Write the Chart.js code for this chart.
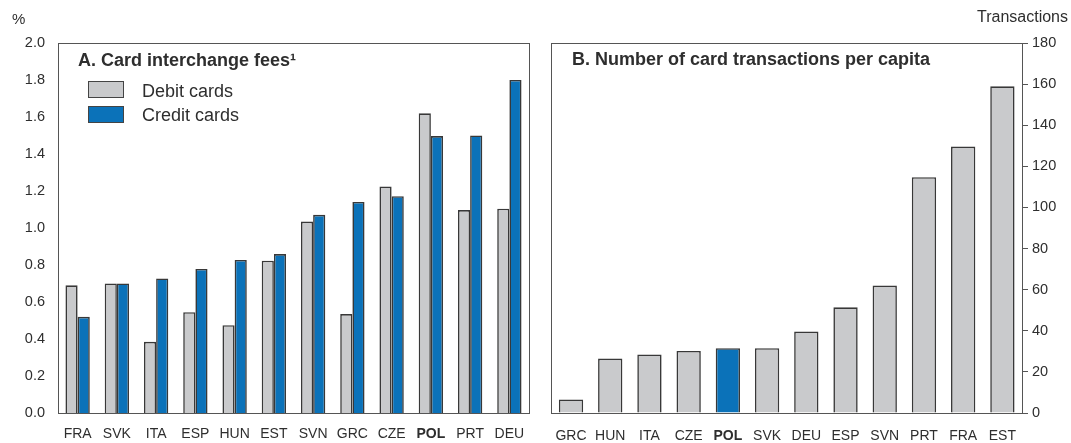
<!DOCTYPE html>
<html>
<head>
<meta charset="utf-8">
<script src="https://cdn.jsdelivr.net/npm/chart.js@4/dist/chart.umd.min.js"></script>
<style>
  html, body { margin:0; padding:0; background:#fff; }
  body { width:1071px; height:443px; position:relative; overflow:hidden; font-family:"Liberation Sans", Arial, sans-serif; color:#2e2e2e; }
  .abs { position:absolute; line-height:1; white-space:nowrap; }
  #cA { position:absolute; left:0; top:0; }
  #cB { position:absolute; left:540px; top:0; }
  .lbox { position:absolute; width:34px; height:15px; border:1.5px solid #444; }
</style>
</head>
<body>
<canvas id="cA" width="540" height="443"></canvas>
<canvas id="cB" width="531" height="443"></canvas>

<div class="abs" style="left:12px; top:11px; font-size:15px;">%</div>
<div class="abs" style="left:977px; top:9px; font-size:16px;">Transactions</div>
<div class="abs" style="left:78px; top:51px; font-size:18px; font-weight:bold;">A. Card interchange fees¹</div>
<div class="abs" style="left:572px; top:50px; font-size:18px; font-weight:bold;">B. Number of card transactions per capita</div>

<div class="lbox" style="left:88px; top:81px; background:#c9cacc;"></div>
<div class="abs" style="left:142px; top:82px; font-size:18px;">Debit cards</div>
<div class="lbox" style="left:88px; top:106px; background:#0b72b9;"></div>
<div class="abs" style="left:142px; top:106px; font-size:18px;">Credit cards</div>

<script>
// ---- Data ----
const feeCountries = ['FRA','SVK','ITA','ESP','HUN','EST','SVN','GRC','CZE','POL','PRT','DEU'];
const debitFees    = [0.69, 0.70, 0.385, 0.545, 0.475, 0.823, 1.035, 0.535, 1.225, 1.62, 1.097, 1.104];
const creditFees   = [0.52, 0.70, 0.727, 0.779, 0.827, 0.859, 1.071, 1.141, 1.172, 1.497, 1.50, 1.80];
const feeTicks     = [0, 0.2, 0.4, 0.6, 0.8, 1.0, 1.2, 1.4, 1.6, 1.8, 2.0];

const txCountries  = ['GRC','HUN','ITA','CZE','POL','SVK','DEU','ESP','SVN','PRT','FRA','EST'];
const txPerCapita  = [6.6, 26.5, 28.5, 30.2, 31.5, 31.5, 39.6, 51.4, 62.0, 114.7, 129.6, 158.9];
const txTicks      = [0, 20, 40, 60, 80, 100, 120, 140, 160, 180];

// ---- Styles ----
const GREY = '#c9cacc', BLUE = '#0b72b9', EDGE = '#383838', TXT = '#2e2e2e';
const FONT = '"Liberation Sans", Arial, sans-serif';
Chart.defaults.font.family = FONT;
Chart.defaults.color = TXT;

const frame = {
  id: 'frame',
  afterDraw(chart) {
    const a = chart.chartArea, c = chart.ctx;
    c.save();
    c.strokeStyle = '#555';
    c.lineWidth = 1;
    c.strokeRect(Math.round(a.left) + 0.5, Math.round(a.top) + 0.5,
                 Math.round(a.right - a.left), Math.round(a.bottom - a.top));
    c.restore();
  }
};

const tickFont = (ctx) => ({
  size: 14, family: FONT,
  weight: (ctx.tick && ctx.tick.label === 'POL') ? 'bold' : 'normal'
});

new Chart(document.getElementById('cA'), {
  type: 'bar',
  data: {
    labels: feeCountries,
    datasets: [
      { label: 'Debit cards', data: debitFees, backgroundColor: GREY, borderColor: EDGE, borderWidth: 1.6,
        categoryPercentage: 0.62, barPercentage: 1.0 },
      { label: 'Credit cards', data: creditFees, backgroundColor: BLUE, borderColor: EDGE, borderWidth: 1.6,
        categoryPercentage: 0.62, barPercentage: 1.0 }
    ]
  },
  options: {
    responsive: false, animation: false,
    layout: { padding: { top: 43, right: 11, left: 0, bottom: 0 } },
    plugins: { legend: { display: false }, tooltip: { enabled: false } },
    scales: {
      x: {
        grid: { display: false, drawTicks: false }, border: { display: false },
        ticks: { font: tickFont, padding: 13, color: TXT, maxRotation: 0, autoSkip: false },
        afterFit(s) { s.height = 30; }
      },
      y: {
        min: 0, max: 2,
        afterBuildTicks(s) { s.ticks = feeTicks.map(v => ({ value: v })); },
        grid: { display: false, drawTicks: false }, border: { display: false },
        ticks: { font: { size: 14.5 }, padding: 13, color: TXT, callback: v => Number(v).toFixed(1) },
        afterFit(s) { s.width = 58; }
      }
    }
  },
  plugins: [frame]
});

new Chart(document.getElementById('cB'), {
  type: 'bar',
  data: {
    labels: txCountries,
    datasets: [
      { label: 'Transactions per capita', data: txPerCapita,
        backgroundColor: txCountries.map(c => c === 'POL' ? BLUE : GREY),
        borderColor: EDGE, borderWidth: 1.6, categoryPercentage: 1.0, barPercentage: 0.62 }
    ]
  },
  options: {
    responsive: false, animation: false,
    layout: { padding: { top: 43, left: 11, right: 0, bottom: 0 } },
    plugins: { legend: { display: false }, tooltip: { enabled: false } },
    scales: {
      x: {
        grid: { display: false, drawTicks: false }, border: { display: false },
        ticks: { font: tickFont, padding: 15, color: TXT, maxRotation: 0, autoSkip: false },
        afterFit(s) { s.height = 30; }
      },
      y: {
        position: 'right', min: 0, max: 180,
        afterBuildTicks(s) { s.ticks = txTicks.map(v => ({ value: v })); },
        grid: { display: true, drawOnChartArea: false, drawTicks: true, tickLength: 6, color: '#555' },
        border: { display: false },
        ticks: { font: { size: 14.5 }, padding: 4, color: TXT },
        afterFit(s) { s.width = 49; }
      }
    }
  },
  plugins: [frame]
});
</script>
</body>
</html>
